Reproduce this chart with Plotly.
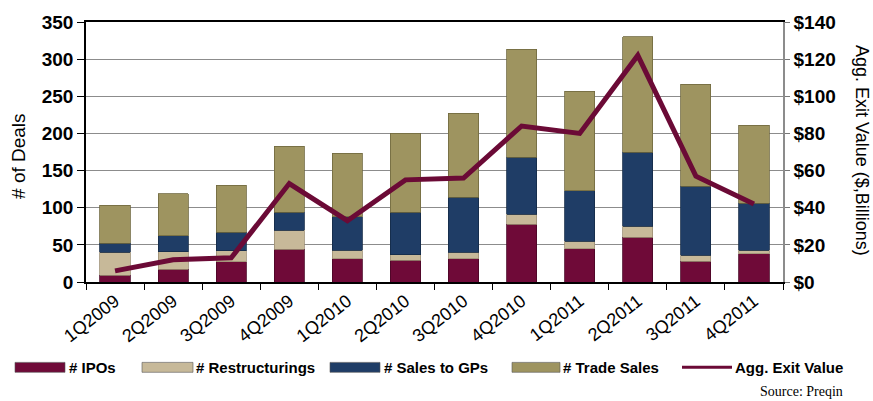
import plotly.graph_objects as go

# Quarterly private-equity exits: deal counts by type (stacked) and aggregate value (line)
quarters = ["1Q2009", "2Q2009", "3Q2009", "4Q2009", "1Q2010", "2Q2010",
            "3Q2010", "4Q2010", "1Q2011", "2Q2011", "3Q2011", "4Q2011"]
ipos = [9, 17, 27, 44, 31, 29, 31, 78, 45, 60, 28, 38]
restructurings = [31, 24, 15, 26, 12, 8, 9, 13, 10, 15, 8, 5]
sales_to_gps = [12, 21, 25, 24, 45, 57, 74, 77, 68, 100, 93, 63]
trade_sales = [51, 57, 63, 89, 85, 106, 113, 145, 134, 155, 137, 105]
exit_value = [6, 12, 13, 53, 33, 55, 56, 84, 80, 122, 57, 42]

left_ticks = [0, 50, 100, 150, 200, 250, 300, 350]
right_ticks = [0, 20, 40, 60, 80, 100, 120, 140]
right_tick_labels = ["$0", "$20", "$40", "$60", "$80", "$100", "$120", "$140"]

series = [
    ("# IPOs", ipos, "#6F0A38", "#4a0525"),
    ("# Restructurings", restructurings, "#C7B999", "#9c8f73"),
    ("# Sales to GPs", sales_to_gps, "#1F3D66", "#142a47"),
    ("# Trade Sales", trade_sales, "#9E9460", "#6f683f"),
]
line_color = "#6B0A36"

fig = go.Figure()
for name, vals, color, edge in series:
    fig.add_trace(go.Bar(
        x=quarters, y=vals, name=name,
        marker=dict(color=color, line=dict(color=edge, width=0.8)),
        yaxis="y",
    ))

fig.add_trace(go.Scatter(
    x=quarters, y=exit_value, name="Agg. Exit Value",
    mode="lines", line=dict(color=line_color, width=5),
    yaxis="y2",
))

# plot-area geometry in pixels, used to place the hand-built legend
W, H = 873, 401
L, R, T, B = 86, 90, 20, 119
pw, ph = W - L - R, H - T - B


def px(x):
    return (x - L) / pw


def py(y):
    return (H - B - y) / ph


font_main = "Liberation Sans, Arial, sans-serif"

shapes = []
annotations = []

legend_items = [
    ("# IPOs", "#6F0A38", 15, 65, 67, "bar"),
    ("# Restructurings", "#C7B999", 142, 193, 194, "bar"),
    ("# Sales to GPs", "#1F3D66", 330, 380, 382, "bar"),
    ("# Trade Sales", "#9E9460", 512, 560, 561, "bar"),
    ("Agg. Exit Value", line_color, 682, 732, 733, "line"),
]
for label, color, x0, x1, tx, kind in legend_items:
    if kind == "bar":
        shapes.append(dict(type="rect", xref="paper", yref="paper",
                           x0=px(x0), x1=px(x1), y0=py(373), y1=py(363),
                           fillcolor=color, line=dict(width=0.6, color="#555")))
    else:
        shapes.append(dict(type="line", xref="paper", yref="paper",
                           x0=px(x0), x1=px(x1), y0=py(368), y1=py(368),
                           line=dict(color=color, width=3)))
    annotations.append(dict(text=label, xref="paper", yref="paper",
                            x=px(tx), y=py(368), xanchor="left", yanchor="middle",
                            showarrow=False,
                            font=dict(family=font_main, size=15, color="black",
                                      weight="bold")))

annotations.append(dict(text="# of Deals", xref="paper", yref="paper",
                        x=px(19), y=py(155), textangle=-90, showarrow=False,
                        xanchor="center", yanchor="middle",
                        font=dict(family=font_main, size=19, color="black")))
annotations.append(dict(text="Agg. Exit Value ($,Billions)", xref="paper", yref="paper",
                        x=px(862), y=py(149), textangle=90, showarrow=False,
                        xanchor="center", yanchor="middle",
                        font=dict(family=font_main, size=18, color="black")))
annotations.append(dict(text="Source: Preqin", xref="paper", yref="paper",
                        x=px(845), y=py(392), xanchor="right", yanchor="middle",
                        showarrow=False,
                        font=dict(family="Liberation Serif, Times New Roman, serif",
                                  size=14, color="black")))

fig.update_layout(
    width=W, height=H,
    margin=dict(l=L, r=R, t=T, b=B, pad=0),
    barmode="stack", bargap=0.48,
    plot_bgcolor="white", paper_bgcolor="white",
    showlegend=False,
    shapes=shapes, annotations=annotations,
    xaxis=dict(
        type="category", tickangle=-38, tickson="boundaries",
        ticks="outside", ticklen=6, tickcolor="black",
        showline=True, linecolor="black", linewidth=1.5, mirror=True,
        showgrid=False,
        tickfont=dict(family=font_main, size=18, color="black"),
    ),
    yaxis=dict(
        range=[0, 350], tickvals=left_ticks,
        ticks="outside", ticklen=7, tickcolor="black",
        showline=True, linecolor="black", linewidth=1.5,
        showgrid=True, gridcolor="#8c8c8c", gridwidth=1,
        zeroline=False,
        tickfont=dict(family=font_main, size=19, color="black", weight="bold"),
    ),
    yaxis2=dict(
        range=[0, 140], tickvals=right_ticks, ticktext=right_tick_labels,
        overlaying="y", side="right",
        ticks="outside", ticklen=5, tickcolor="#777",
        showline=True, linecolor="#8c8c8c", linewidth=1.5,
        showgrid=False, zeroline=False,
        tickfont=dict(family=font_main, size=19, color="black", weight="bold"),
    ),
)

fig.write_html("out.html")
